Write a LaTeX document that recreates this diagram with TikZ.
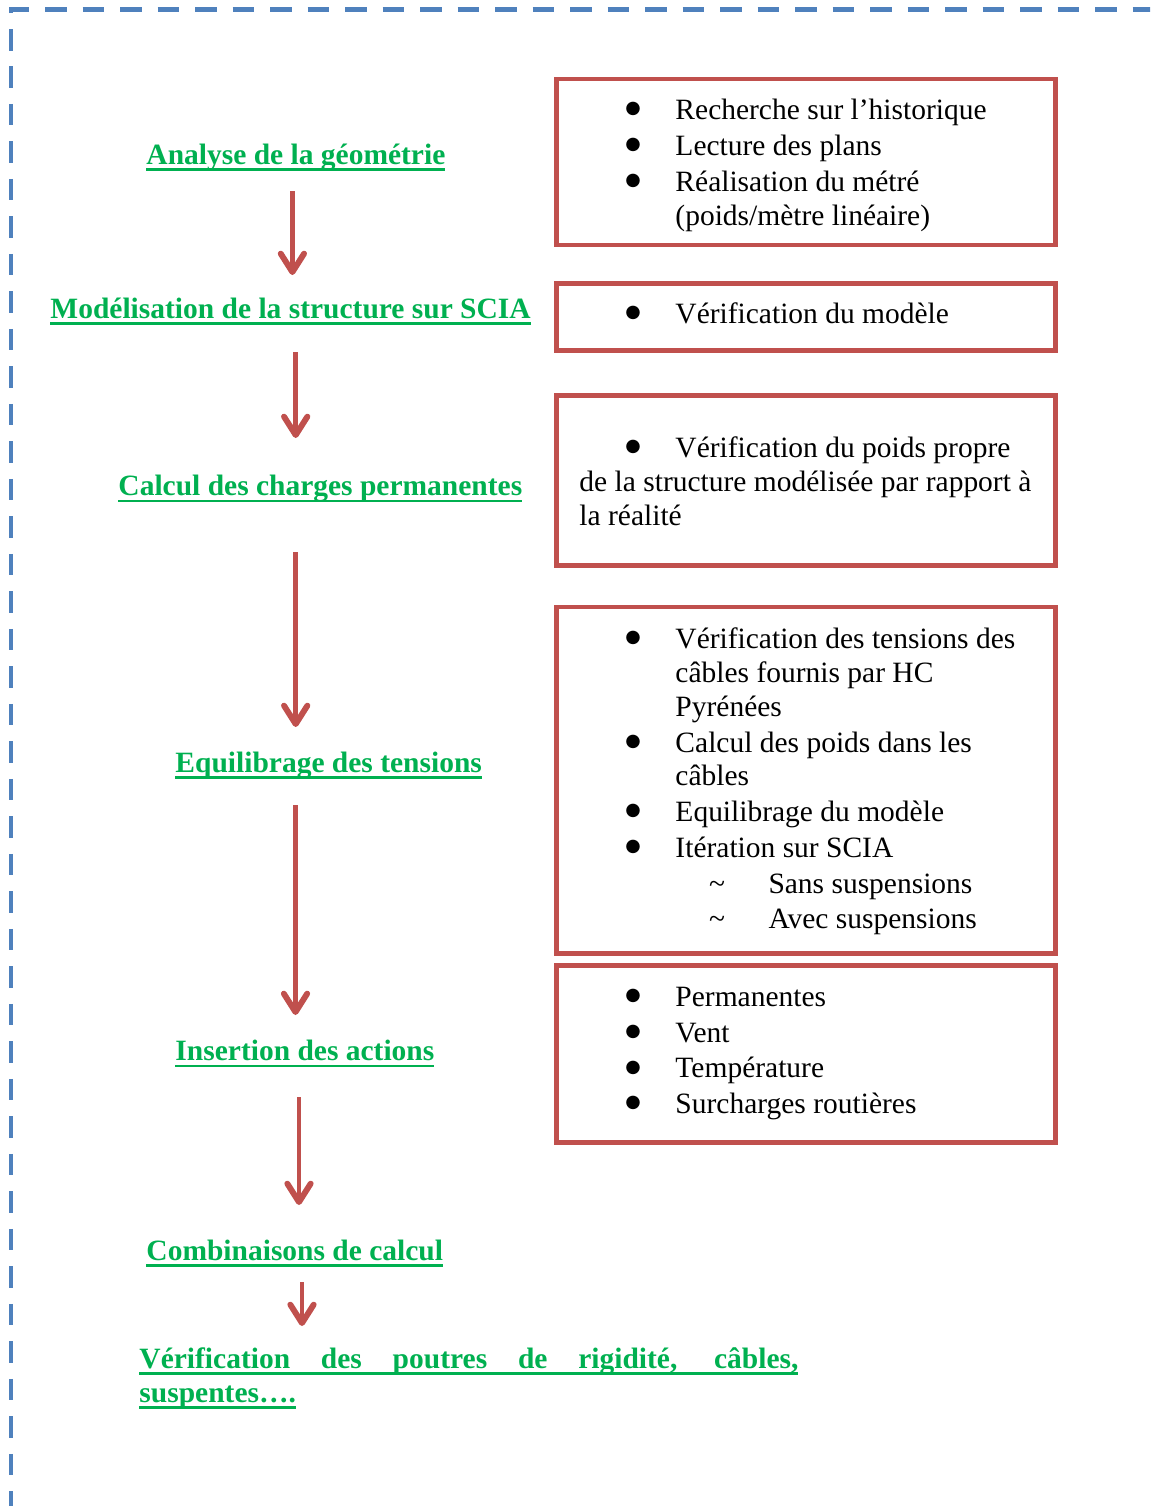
\documentclass[tikz,border=0pt]{standalone}
\usepackage{fontspec}
\setmainfont{Liberation Serif}
\newfontfamily\dejavu{DejaVu Sans}
\usetikzlibrary{arrows.meta}
\definecolor{tgreen}{RGB}{0,176,80}
\definecolor{bred}{RGB}{192,80,77}
\definecolor{dblue}{RGB}{79,129,189}
\newsavebox\gulbox
\newcommand\gul[1]{\sbox\gulbox{#1}\rlap{\rule[-2.7pt]{\wd\gulbox}{1pt}}\usebox\gulbox}
\newcommand\bigbul{\raisebox{2.1pt}{\dejavu\fontsize{7.2pt}{8pt}\selectfont ●}}
\newcommand\bitem[3]{%
  \node[bul] (#1b) at (633,#2) {\bigbul};
  \node[txt] (#1) at (675,#2) {#3};}
\newcommand\titem[4]{\node[txt] (#1) at (#2,#3) {#4};}
\newcommand\sitem[3]{%
  \node[bul] (#1t) at (717,#2) {\textasciitilde};
  \node[txt] (#1) at (768,#2) {#3};}
\begin{document}
\begin{tikzpicture}[x=0.407pt, y=-0.407pt,
  txt/.style={anchor=base west, inner sep=0pt, font=\fontsize{12pt}{14pt}\selectfont},
  bul/.style={anchor=base, inner sep=0pt, font=\fontsize{12pt}{14pt}\selectfont},
  title/.style={anchor=base west, inner sep=0pt, text=tgreen, font=\fontsize{12pt}{14pt}\selectfont\bfseries},
  rbox/.style={draw=bred, line width=2.03pt, inner sep=0pt, rectangle, minimum width=202.89pt},
  flowarrow/.style={draw=bred, line width=1.85pt, -{Straight Barb[length=7.5pt,width=9.5pt,line width=2.4pt,round]}},
  border/.style={draw=dblue, line width=2.03pt, dash pattern=on 8.75pt off 6.51pt}]
\useasboundingbox (0,0) rectangle (1150,1506);
\begin{scope}
  \clip (0,0) rectangle (1150,1506);
  \draw[border, dash phase=8.75pt] (11,29) -- (11,9.7) -- (1170,9.7);
  \draw[border] (11,29) -- (11,1525);
\end{scope}

% boxes
\node[rbox, minimum height=67.56pt] (b1) at (805.75,162) {};
\node[rbox, minimum height=27.27pt] (b2) at (805.75,317) {};
\node[rbox, minimum height=69.19pt] (b3) at (805.75,480) {};
\node[rbox, minimum height=141.03pt] (b4) at (805.75,780.25) {};
\node[rbox, minimum height=72.24pt] (b5) at (805.75,1053.75) {};

% box 1
\bitem{b1a}{119}{Recherche sur l’historique}
\bitem{b1b}{155}{Lecture des plans}
\bitem{b1c}{191}{Réalisation du métré}
\titem{b1d}{675}{225}{(poids/mètre linéaire)}
% box 2
\bitem{b2a}{323}{Vérification du modèle}
% box 3
\bitem{b3a}{457}{Vérification du poids propre}
\titem{b3b}{579}{491}{de la structure modélisée par rapport à}
\titem{b3c}{579}{525}{la réalité}
% box 4
\bitem{b4a}{648}{Vérification des tensions des}
\titem{b4b}{675}{682}{câbles fournis par HC}
\titem{b4c}{675}{716}{Pyrénées}
\bitem{b4d}{752}{Calcul des poids dans les}
\titem{b4e}{675}{785}{câbles}
\bitem{b4f}{821}{Equilibrage du modèle}
\bitem{b4g}{857}{Itération sur SCIA}
\sitem{b4h}{893}{Sans suspensions}
\sitem{b4i}{928}{Avec suspensions}
% box 5
\bitem{b5a}{1006}{Permanentes}
\bitem{b5b}{1042}{Vent}
\bitem{b5c}{1077.5}{Température}
\bitem{b5d}{1113}{Surcharges routières}

% titles
\node[title] (t1) at (146,164) {\gul{Analyse de la géométrie}};
\node[title] (t2) at (50,318) {\gul{Modélisation de la structure sur SCIA}};
\node[title] (t3) at (118,495.7) {\gul{Calcul des charges permanentes}};
\node[title] (t4) at (175,772) {\gul{Equilibrage des tensions}};
\node[title] (t5) at (175,1060.7) {\gul{Insertion des actions}};
\node[title] (t6) at (146,1260) {\gul{Combinaisons de calcul}};
\node[title] (t7) at (139,1368) {\gul{\makebox[268.2pt][s]{Vérification des poutres de rigidité, câbles,}}};
\node[title] (t8) at (139,1402) {\gul{suspentes….}};

% arrows
\coordinate (a1s) at (292.4,191); \coordinate (a1e) at (292.4,275);
\coordinate (a2s) at (295.7,352); \coordinate (a2e) at (295.7,438);
\coordinate (a3s) at (295.7,552); \coordinate (a3e) at (295.7,727);
\coordinate (a4s) at (295.5,805); \coordinate (a4e) at (295.5,1015);
\coordinate (a5s) at (299,1097); \coordinate (a5e) at (299,1205);
\coordinate (a6s) at (302,1282); \coordinate (a6e) at (302,1326);
\draw[flowarrow] (a1s) -- (a1e);
\draw[flowarrow] (a2s) -- (a2e);
\draw[flowarrow] (a3s) -- (a3e);
\draw[flowarrow] (a4s) -- (a4e);
\draw[flowarrow] (a5s) -- (a5e);
\draw[flowarrow] (a6s) -- (a6e);
\end{tikzpicture}
\end{document}
